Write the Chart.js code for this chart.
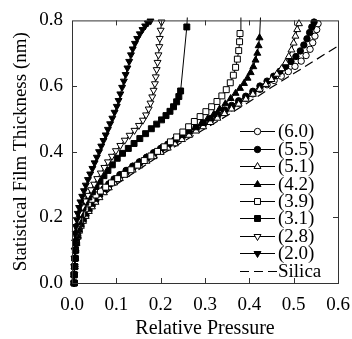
<!DOCTYPE html>
<html>
<head>
<meta charset="utf-8">
<script src="https://cdn.jsdelivr.net/npm/chart.js@4/dist/chart.umd.min.js"></script>
<style>
  html, body { margin: 0; padding: 0; background: #fff; }
</style>
</head>
<body>
<canvas id="chart" width="352" height="339"></canvas>
<script>
const xTicks = [0, 0.1, 0.2, 0.3, 0.4, 0.5, 0.6];
const yTicks = [0, 0.2, 0.4, 0.6, 0.8];
const seriesNames = ["(6.0)", "(5.5)", "(5.1)", "(4.2)", "(3.9)", "(3.1)", "(2.8)", "(2.0)", "Silica"];

// [relative pressure, thickness nm]
const s60 = [[0.005,0],[0.005,0.025],[0.006,0.05],[0.007,0.075],[0.008,0.1],[0.01,0.12],[0.013,0.14],[0.016,0.16],[0.02,0.175],[0.025,0.19],[0.031,0.205],[0.038,0.22],[0.045,0.235],[0.053,0.25],[0.062,0.265],[0.072,0.28],[0.083,0.295],[0.095,0.31],[0.108,0.323],[0.122,0.336],[0.137,0.349],[0.152,0.362],[0.168,0.376],[0.184,0.39],[0.2,0.403],[0.216,0.416],[0.232,0.429],[0.248,0.442],[0.264,0.455],[0.28,0.468],[0.296,0.481],[0.312,0.494],[0.328,0.507],[0.344,0.52],[0.36,0.534],[0.376,0.548],[0.392,0.562],[0.408,0.576],[0.424,0.59],[0.44,0.604],[0.456,0.617],[0.472,0.63],[0.488,0.644],[0.503,0.66],[0.517,0.676],[0.528,0.693],[0.537,0.712],[0.543,0.732],[0.548,0.752],[0.552,0.772],[0.555,0.79]];
const s55 = [[0.005,0],[0.005,0.025],[0.006,0.05],[0.007,0.075],[0.008,0.1],[0.01,0.123],[0.013,0.145],[0.016,0.165],[0.02,0.18],[0.025,0.196],[0.031,0.212],[0.038,0.227],[0.045,0.242],[0.053,0.257],[0.062,0.272],[0.072,0.287],[0.083,0.302],[0.095,0.317],[0.108,0.33],[0.122,0.343],[0.137,0.356],[0.152,0.369],[0.168,0.383],[0.184,0.397],[0.2,0.41],[0.216,0.423],[0.232,0.436],[0.248,0.449],[0.264,0.462],[0.28,0.475],[0.296,0.488],[0.312,0.501],[0.328,0.514],[0.344,0.527],[0.36,0.541],[0.376,0.555],[0.392,0.569],[0.408,0.584],[0.424,0.6],[0.44,0.615],[0.455,0.63],[0.469,0.645],[0.482,0.66],[0.494,0.675],[0.505,0.69],[0.515,0.707],[0.523,0.725],[0.53,0.744],[0.536,0.763],[0.541,0.78],[0.546,0.795]];
const s51 = [[0.005,0],[0.005,0.025],[0.006,0.05],[0.007,0.075],[0.008,0.1],[0.01,0.12],[0.013,0.14],[0.016,0.158],[0.02,0.173],[0.025,0.188],[0.031,0.203],[0.038,0.218],[0.045,0.232],[0.053,0.246],[0.062,0.26],[0.072,0.275],[0.083,0.29],[0.095,0.305],[0.108,0.318],[0.122,0.331],[0.137,0.344],[0.152,0.357],[0.168,0.371],[0.184,0.385],[0.2,0.398],[0.216,0.411],[0.232,0.424],[0.248,0.437],[0.264,0.45],[0.28,0.463],[0.296,0.476],[0.312,0.489],[0.328,0.502],[0.344,0.516],[0.36,0.53],[0.376,0.545],[0.392,0.56],[0.408,0.575],[0.423,0.59],[0.437,0.605],[0.45,0.62],[0.462,0.636],[0.473,0.653],[0.482,0.671],[0.489,0.69],[0.495,0.71],[0.5,0.731],[0.504,0.752],[0.508,0.772],[0.512,0.79]];
const s42 = [[0.005,0],[0.005,0.025],[0.006,0.05],[0.007,0.075],[0.008,0.1],[0.01,0.122],[0.013,0.143],[0.016,0.162],[0.02,0.178],[0.025,0.194],[0.031,0.21],[0.038,0.225],[0.045,0.24],[0.053,0.255],[0.062,0.27],[0.072,0.285],[0.083,0.3],[0.095,0.315],[0.108,0.328],[0.122,0.341],[0.137,0.354],[0.152,0.368],[0.168,0.382],[0.184,0.396],[0.2,0.41],[0.216,0.423],[0.232,0.436],[0.248,0.449],[0.263,0.461],[0.278,0.473],[0.292,0.486],[0.306,0.5],[0.32,0.514],[0.333,0.53],[0.346,0.546],[0.358,0.562],[0.369,0.578],[0.379,0.593],[0.388,0.608],[0.396,0.624],[0.403,0.641],[0.409,0.659],[0.414,0.679],[0.418,0.7],[0.421,0.723],[0.423,0.747],[0.427,0.86]];
const s39 = [[0.005,0],[0.005,0.025],[0.006,0.05],[0.007,0.075],[0.008,0.1],[0.01,0.125],[0.012,0.15],[0.015,0.172],[0.019,0.192],[0.024,0.21],[0.03,0.226],[0.037,0.241],[0.045,0.255],[0.054,0.268],[0.064,0.28],[0.076,0.292],[0.089,0.305],[0.103,0.318],[0.118,0.331],[0.133,0.345],[0.148,0.359],[0.163,0.373],[0.178,0.387],[0.193,0.401],[0.208,0.415],[0.222,0.43],[0.236,0.445],[0.25,0.46],[0.263,0.476],[0.276,0.492],[0.289,0.507],[0.302,0.522],[0.315,0.537],[0.327,0.553],[0.338,0.57],[0.348,0.589],[0.357,0.61],[0.364,0.633],[0.369,0.657],[0.373,0.682],[0.376,0.708],[0.378,0.735],[0.379,0.76],[0.381,0.86]];
const s31 = [[0.005,0],[0.005,0.025],[0.006,0.05],[0.007,0.075],[0.008,0.1],[0.009,0.125],[0.011,0.15],[0.013,0.172],[0.016,0.193],[0.02,0.212],[0.025,0.23],[0.031,0.246],[0.038,0.262],[0.046,0.278],[0.054,0.294],[0.063,0.31],[0.072,0.327],[0.081,0.343],[0.091,0.36],[0.102,0.38],[0.114,0.395],[0.127,0.41],[0.14,0.425],[0.153,0.44],[0.166,0.455],[0.179,0.47],[0.191,0.484],[0.202,0.497],[0.212,0.51],[0.221,0.523],[0.229,0.537],[0.236,0.552],[0.241,0.568],[0.245,0.585],[0.259,0.78],[0.262,0.86]];
const s28 = [[0.005,0],[0.005,0.025],[0.006,0.05],[0.006,0.075],[0.007,0.1],[0.008,0.125],[0.01,0.15],[0.012,0.172],[0.015,0.193],[0.019,0.213],[0.024,0.232],[0.03,0.25],[0.036,0.267],[0.043,0.284],[0.05,0.301],[0.057,0.318],[0.065,0.335],[0.073,0.352],[0.081,0.369],[0.09,0.386],[0.099,0.403],[0.109,0.419],[0.119,0.435],[0.13,0.45],[0.141,0.465],[0.151,0.48],[0.16,0.496],[0.167,0.512],[0.173,0.53],[0.177,0.548],[0.181,0.567],[0.184,0.587],[0.187,0.607],[0.189,0.628],[0.191,0.65],[0.193,0.672],[0.195,0.695],[0.197,0.72],[0.198,0.745],[0.2,0.77],[0.202,0.795]];
const s20 = [[0.005,0],[0.005,0.025],[0.005,0.05],[0.006,0.075],[0.006,0.1],[0.007,0.125],[0.008,0.15],[0.009,0.172],[0.011,0.193],[0.013,0.212],[0.016,0.23],[0.019,0.247],[0.023,0.264],[0.027,0.281],[0.031,0.298],[0.036,0.315],[0.041,0.332],[0.046,0.349],[0.051,0.366],[0.056,0.383],[0.061,0.4],[0.066,0.417],[0.071,0.434],[0.076,0.451],[0.081,0.468],[0.086,0.485],[0.091,0.502],[0.096,0.52],[0.101,0.538],[0.105,0.556],[0.109,0.576],[0.113,0.596],[0.117,0.615],[0.121,0.635],[0.125,0.655],[0.129,0.675],[0.133,0.695],[0.137,0.713],[0.142,0.73],[0.147,0.745],[0.153,0.759],[0.159,0.772],[0.165,0.783],[0.171,0.792],[0.177,0.798]];
const silica = [[0.005,0],[0.006,0.08],[0.008,0.12],[0.012,0.15],[0.02,0.18],[0.04,0.225],[0.07,0.265],[0.1,0.3],[0.15,0.345],[0.2,0.39],[0.25,0.43],[0.3,0.47],[0.35,0.51],[0.4,0.552],[0.45,0.596],[0.5,0.638],[0.55,0.68],[0.6,0.722]];

const seriesData = [s60, s55, s51, s42, s39, s31, s28, s20];
const markers = [
  { style: "circle", rot: 0, fill: "#fff", r: 3.2 },
  { style: "circle", rot: 0, fill: "#000", r: 3.2 },
  { style: "triangle", rot: 0, fill: "#fff", r: 4 },
  { style: "triangle", rot: 0, fill: "#000", r: 4 },
  { style: "rect", rot: 0, fill: "#fff", r: 4.2 },
  { style: "rect", rot: 0, fill: "#000", r: 4.2 },
  { style: "triangle", rot: 180, fill: "#fff", r: 4 },
  { style: "triangle", rot: 180, fill: "#000", r: 4 }
];

const FONT = "'Liberation Serif', 'Times New Roman', serif";

const datasets = seriesData.map((d, i) => ({
  label: seriesNames[i],
  data: d.map(p => ({ x: p[0], y: p[1] })),
  showLine: true,
  order: 8 - i,
  borderColor: "#000",
  borderWidth: 1,
  pointStyle: markers[i].style,
  rotation: markers[i].rot,
  pointRadius: markers[i].r,
  pointBackgroundColor: markers[i].fill,
  pointBorderColor: "#000",
  pointBorderWidth: 1,
  clip: { left: 6, right: 6, bottom: 6, top: 3 }
}));
datasets.push({
  label: seriesNames[8],
  data: silica.map(p => ({ x: p[0], y: p[1] })),
  showLine: true,
  order: 9,
  borderColor: "#000",
  borderWidth: 1.2,
  borderDash: [9, 5],
  pointRadius: 0,
  clip: 0
});

// frame, inward ticks and legend
const framePlugin = {
  id: "frame",
  afterDraw(chart) {
    const ctx = chart.ctx;
    const a = chart.chartArea;
    const xs = chart.scales.x, ys = chart.scales.y;
    ctx.save();
    ctx.strokeStyle = "#333";
    ctx.lineWidth = 1;
    ctx.strokeRect(a.left + 0.5, a.top + 0.5, a.right - a.left, a.bottom - a.top);
    ctx.beginPath();
    xTicks.slice(1, -1).forEach(v => {
      const px = Math.round(xs.getPixelForValue(v)) + 0.5;
      ctx.moveTo(px, a.bottom); ctx.lineTo(px, a.bottom - 5);
      ctx.moveTo(px, a.top); ctx.lineTo(px, a.top + 5);
    });
    yTicks.slice(1, -1).forEach(v => {
      const py = Math.round(ys.getPixelForValue(v)) + 0.5;
      ctx.moveTo(a.left, py); ctx.lineTo(a.left + 5, py);
      ctx.moveTo(a.right, py); ctx.lineTo(a.right - 5, py);
    });
    ctx.stroke();

    // legend
    const x0 = a.right - 98, x1 = a.right - 63, tx = a.right - 60;
    ctx.font = "19px " + FONT;
    ctx.textBaseline = "middle";
    ctx.fillStyle = "#000";
    seriesNames.forEach((name, i) => {
      const y = Math.round(a.top + 111 + i * 17.4) + 0.5;
      ctx.beginPath();
      ctx.strokeStyle = "#000";
      ctx.lineWidth = i === 8 ? 1.2 : 1;
      ctx.setLineDash(i === 8 ? [9, 5] : []);
      ctx.moveTo(x0, y); ctx.lineTo(x1 + (i === 8 ? 2 : 0), y);
      ctx.stroke();
      ctx.setLineDash([]);
      if (i < 8) {
        const m = markers[i];
        ctx.fillStyle = m.fill;
        Chart.helpers.drawPoint(ctx, { pointStyle: m.style, rotation: m.rot, radius: m.r, borderWidth: 1 }, (x0 + x1) / 2, y);
      }
      ctx.fillStyle = "#000";
      ctx.fillText(name, tx, y + 1);
    });
    ctx.restore();
  }
};

new Chart(document.getElementById("chart"), {
  type: "scatter",
  data: { datasets },
  options: {
    responsive: false,
    animation: false,
    events: [],
    layout: { padding: { top: 17, right: 14, left: 0, bottom: 0 } },
    plugins: { legend: { display: false }, tooltip: { enabled: false } },
    scales: {
      x: {
        type: "linear",
        min: 0, max: 0.6,
        afterBuildTicks: s => { s.ticks = xTicks.map(v => ({ value: v })); },
        afterFit: s => { s.height = 56; s.paddingLeft = 0; s.paddingRight = 0; },
        grid: { display: false, drawTicks: false },
        border: { display: false },
        ticks: { padding: 11, color: "#000", font: { family: FONT, size: 19 }, callback: v => v.toFixed(1), maxRotation: 0 },
        title: { display: true, text: "Relative Pressure", color: "#000", font: { family: FONT, size: 20, lineHeight: 1 }, padding: { top: 0, bottom: 0 } }
      },
      y: {
        type: "linear",
        min: 0, max: 0.8,
        afterBuildTicks: s => { s.ticks = yTicks.map(v => ({ value: v })); },
        afterFit: s => { s.width = 72; },
        grid: { display: false, drawTicks: false },
        border: { display: false },
        ticks: { padding: 9, color: "#000", font: { family: FONT, size: 19 }, callback: v => v.toFixed(1) },
        title: { display: true, text: "Statistical Film Thickness (nm)", color: "#000", font: { family: FONT, size: 19 }, padding: { top: 10, bottom: 0 } }
      }
    }
  },
  plugins: [framePlugin]
});
</script>
</body>
</html>
